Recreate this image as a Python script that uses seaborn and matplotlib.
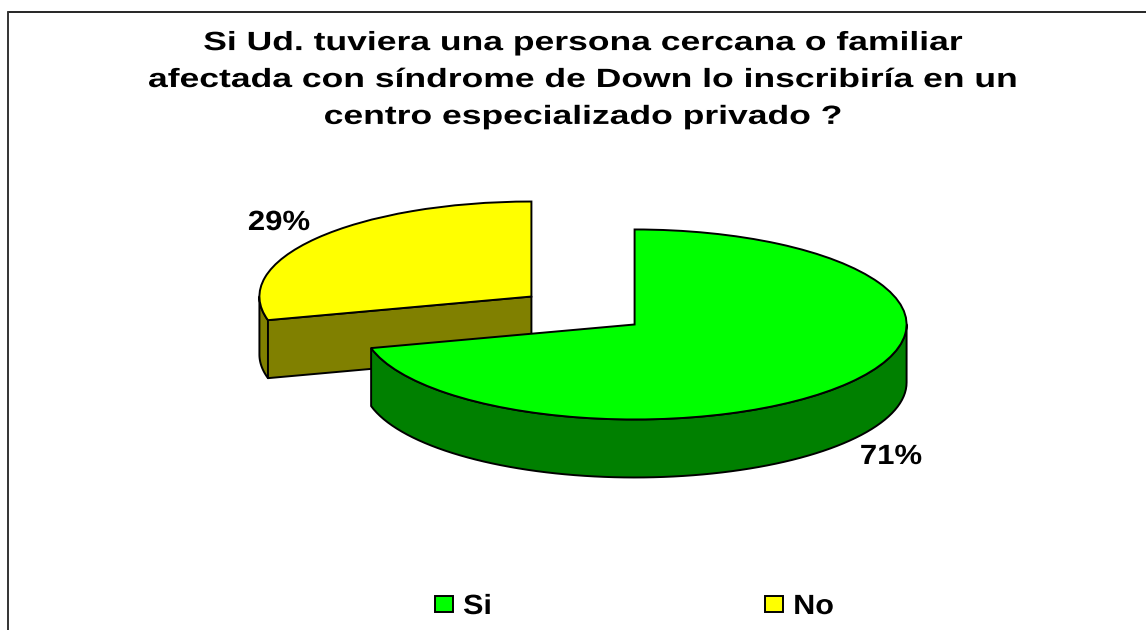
import numpy as np
import matplotlib
matplotlib.use('Agg')
import matplotlib.pyplot as plt
import matplotlib.patheffects as pe
from matplotlib.lines import Line2D
from matplotlib.transforms import Affine2D
import seaborn as sns

labels = ['Si', 'No']
values = [71, 29]
top_colors = ['#00FF00', '#FFFF00']
side_colors = ['#008000', '#808000']
title = ('Si Ud. tuviera una persona cercana o familiar\n'
         'afectada con síndrome de Down lo inscribiría en un\n'
         'centro especializado privado ?')

W, H = 1146, 630
# pixels per pie radius, the pie is squashed by the axes scale
rx, ry = 272, 95
cx, cy = 583, 310.5
depth = 58 / ry

sns.set_style('white')
plt.rcParams['font.family'] = ['Liberation Sans', 'DejaVu Sans']
plt.rcParams['text.color'] = 'black'


# the original text is wider than Arial, stretch it sideways around x0 (pixels)
class Stretch(pe.AbstractPathEffect):
    def __init__(self, k, x0):
        super().__init__()
        self.k = k
        self.x0 = x0

    def draw_path(self, renderer, gc, tpath, affine, rgbFace=None):
        a = affine + Affine2D().translate(-self.x0, 0).scale(self.k, 1).translate(self.x0, 0)
        renderer.draw_path(gc, tpath, a, rgbFace)


fig = plt.figure(figsize=(W / 100, H / 100), dpi=100)
ax = fig.add_axes([0, 0, 1, 1])

wedges, _ = ax.pie(values, colors=top_colors, explode=[0.24, 0.24], startangle=90,
                   counterclock=False, radius=1,
                   wedgeprops={'edgecolor': 'black', 'linewidth': 1.4})
ax.set_aspect('auto')
ax.set_xlim(-cx / rx, (W - cx) / rx)
ax.set_ylim(-(H - cy) / ry, cy / ry)
ax.axis('off')


def wall(xs, ys, color, z):
    xs = np.concatenate([xs, xs[::-1]])
    ys = np.concatenate([ys, ys[::-1] - depth])
    ax.fill(xs, ys, facecolor=color, edgecolor='black', linewidth=1.4, zorder=z,
            joinstyle='round')


# No goes at the back, Si in front of it
for i in [1, 0]:
    w = wedges[i]
    z = 2 if i == 1 else 4
    w.set_zorder(z + 1)
    x0, y0 = w.center
    # rim, only the part facing the viewer
    a1 = max(w.theta1, -180)
    a2 = min(w.theta2, 0)
    if a2 > a1:
        t = np.radians(np.linspace(a1, a2, 80))
        wall(x0 + np.cos(t), y0 + np.sin(t), side_colors[i], z)
    # cut face
    if np.sin(np.radians(w.theta2 + 90)) < -0.01:
        t = np.radians(w.theta2)
        wall(np.array([x0, x0 + np.cos(t)]), np.array([y0, y0 + np.sin(t)]), side_colors[i], z)


def fx(x):
    return x / W


def fy(y):
    return 1 - y / H


fig.text(fx(583), fy(80), title, ha='center', va='center', fontsize=19, fontweight='bold',
         linespacing=1.68, path_effects=[Stretch(1.345, 583)])
fig.text(fx(891), fy(457), f'{values[0]}%', ha='center', va='center', fontsize=20, fontweight='bold',
         path_effects=[Stretch(1.12, 891)])
fig.text(fx(279), fy(223), f'{values[1]}%', ha='center', va='center', fontsize=20, fontweight='bold',
         path_effects=[Stretch(1.12, 279)])

leg = ax.legend(wedges, labels, ncol=2, loc='center left', bbox_to_anchor=(fx(435), fy(607)),
                bbox_transform=fig.transFigure, frameon=False, prop={'size': 20, 'weight': 'bold'},
                handlelength=0.65, handleheight=0.54, handletextpad=0.36, columnspacing=9.93,
                borderpad=0, borderaxespad=0)
for h in leg.legend_handles:
    h.set_linewidth(1.4)
fig.canvas.draw()
for t in leg.get_texts():
    t.set_path_effects([Stretch(1.1, t.get_window_extent().x0)])

# chart area border, cut at the right and the bottom
fig.add_artist(Line2D([fx(8), fx(W)], [fy(12), fy(12)], color='black', lw=1.2))
fig.add_artist(Line2D([fx(8), fx(8)], [fy(12), fy(H)], color='#333333', lw=1.4))

fig.savefig('out.png', dpi=100)
